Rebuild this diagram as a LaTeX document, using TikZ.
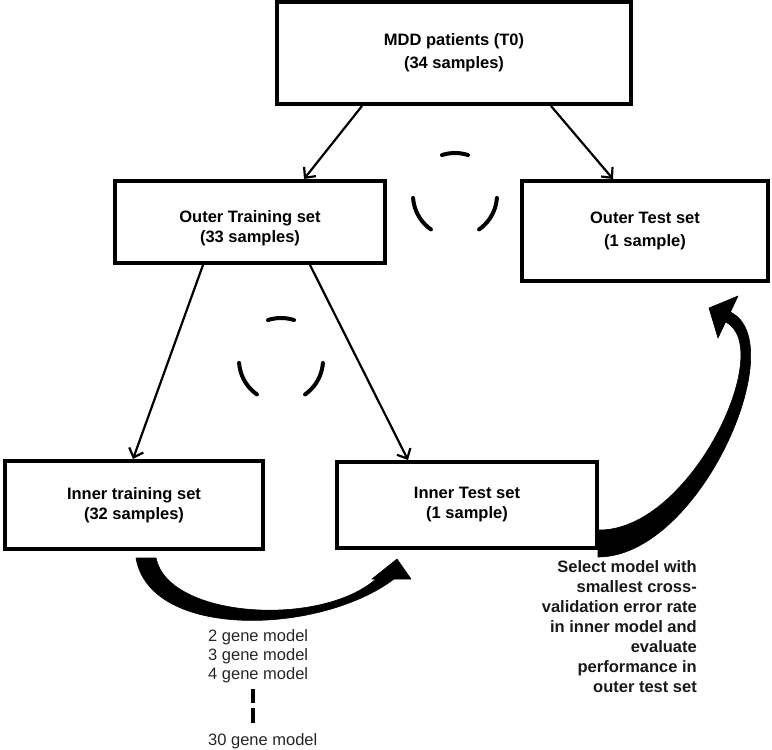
\documentclass[tikz,border=0pt]{standalone}
\usepackage{fontspec}
\setmainfont{Liberation Sans}
\usetikzlibrary{arrows.meta,calc}
\begin{document}
\begin{tikzpicture}[x=1pt,y=-1pt,
  box/.style={draw, line width=4pt, font=\bfseries\fontsize{16.5}{20}\selectfont, align=center, inner sep=0pt},
  thinarrow/.style={line width=2.2pt, -{Straight Barb[length=8pt,width=15pt,line width=2.2pt]}},
  cyclearc/.style={line width=4pt, line cap=round},
  bigarrow/.style={fill=black, draw=black, line width=0.6pt, line join=round},
  genetext/.style={font=\fontsize{16.5}{20}\selectfont, text=black!85, inner sep=0pt, anchor=base west},
  notetext/.style={font=\bfseries\fontsize{16.5}{20}\selectfont, text=black!90, align=right, inner sep=0pt}
]
\useasboundingbox (0,0) rectangle (772,750);

% boxes
\node[box, minimum width=354pt, minimum height=102pt] (top) at (454,53) {MDD patients (T0)\\[3pt](34 samples)};
\node[box, minimum width=270pt, minimum height=82pt] (otrain) at (250,222) {\rule{0pt}{24pt}Outer Training set\\(33 samples)};
\node[box, minimum width=246pt, minimum height=100pt] (otest) at (645,231) {Outer Test set\\[3pt](1 sample)};
\node[box, minimum width=258pt, minimum height=88pt] (itrain) at (134,505) {Inner training set\\(32 samples)};
\node[box, minimum width=260pt, minimum height=86pt] (itest) at (467,505) {Inner Test set\\(1 sample)};

% thin connectors
\draw[thinarrow] ([xshift=87pt]top.south west) -- ([xshift=191pt]otrain.north west);
\draw[thinarrow] ([xshift=276pt]top.south west) -- ([xshift=93pt]otest.north west);
\draw[thinarrow] ([xshift=90pt]otrain.south west) -- ([xshift=130pt]itrain.north west);
\draw[thinarrow] ([xshift=197pt]otrain.south west) -- ([xshift=73pt]itest.north west);

% cycle symbols
\foreach \cx/\cy in {455/195, 281/360}{
  \draw[cyclearc] plot[domain=252:288, samples=12] ({\cx+42*cos(\x)},{\cy+42*sin(\x)});
  \draw[cyclearc] plot[domain=125:176, samples=12] ({\cx+42*cos(\x)},{\cy+42*sin(\x)});
  \draw[cyclearc] plot[domain=4:55, samples=12] ({\cx+42*cos(\x)},{\cy+42*sin(\x)});
}

% bottom thick curved arrow
\fill[bigarrow] (136,558) .. controls (150,640) and (320,635) .. (394,579)
  -- (411,579) -- (397,559) -- (372,579) -- (376,579)
  .. controls (320,628) and (168,618) .. (156,558) -- cycle;

% right thick curved arrow
\fill[bigarrow] (598,557) .. controls (700,557) and (793,342) .. (730.4,312.1)
  -- (738,296) -- (709,308) -- (718,338) -- (725.6,321.9)
  .. controls (777,348) and (690,532) .. (598,530) -- cycle;

% gene model list
\node[genetext] (g2) at (208,641) {2 gene model};
\node[genetext] (g3) at (208,660) {3 gene model};
\node[genetext] (g4) at (208,679) {4 gene model};
\draw[line width=4pt] (253,689) -- (253,703);
\draw[line width=4pt] (253,708) -- (253,723);
\node[genetext] (g30) at (208,745) {30 gene model};

% note
\node[notetext, anchor=north east] (note) at (697,560) {Select model with\\smallest cross-\\validation error rate\\in inner model and\\evaluate\\performance in\\outer test set};
\end{tikzpicture}
\end{document}
